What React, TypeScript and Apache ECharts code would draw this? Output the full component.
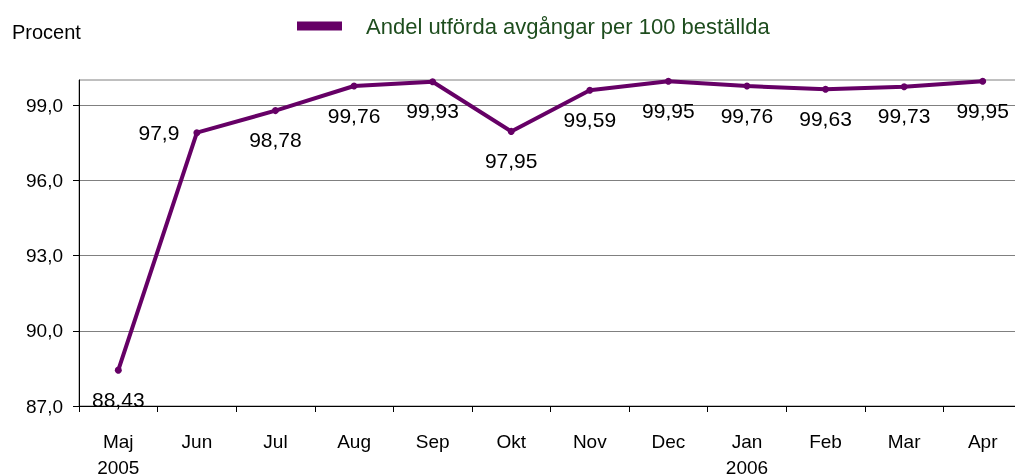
import React, { useEffect, useRef } from "react";
import * as echarts from "echarts";

const months = ["Maj\n2005", "Jun", "Jul", "Aug", "Sep", "Okt", "Nov", "Dec", "Jan\n2006", "Feb", "Mar", "Apr"];
const values = [88.43, 97.9, 98.78, 99.76, 99.93, 97.95, 99.59, 99.95, 99.76, 99.63, 99.73, 99.95];
const yTicks = [87, 90, 93, 96, 99];
const seriesName = "Andel utförda avgångar per 100 beställda";
const yTitle = "Procent";

const fmt = (v: number) => String(v).replace(".", ",");

export default function App() {
  const ref = useRef<HTMLDivElement>(null);
  useEffect(() => {
    const chart = echarts.init(ref.current!, null, { renderer: "svg" });
    const font = "Liberation Sans, Arial, sans-serif";
    chart.setOption({
      animation: false,
      textStyle: { fontFamily: font },
      legend: {
        left: 297,
        top: 15,
        padding: 0,
        icon: "rect",
        itemWidth: 45,
        itemHeight: 9,
        textStyle: { color: "#1e4d1e", fontSize: 22, fontFamily: font, padding: [0, 0, 0, 19] },
        data: [seriesName],
      },
      graphic: [
        {
          type: "text",
          left: 12,
          top: 22,
          style: { text: yTitle, fontSize: 20, fontFamily: font, fill: "#000" },
        },
      ],
      grid: {
        left: 79,
        top: 80,
        height: 326,
        width: 943,
        outerBoundsMode: "none",
        containLabel: false,
        show: true,
        borderColor: "#808080",
        borderWidth: 1,
      },
      xAxis: {
        type: "category",
        data: months,
        boundaryGap: true,
        axisLine: { lineStyle: { color: "#000", width: 1 } },
        axisTick: { show: true, length: 6, inside: false, lineStyle: { color: "#000" } },
        axisLabel: { color: "#000", fontSize: 19, margin: 22, lineHeight: 26, fontFamily: font },
      },
      yAxis: {
        type: "value",
        min: 87,
        max: 100,
        interval: 3,
        axisLine: { show: true, lineStyle: { color: "#000", width: 1 } },
        axisTick: { show: true, length: 6, lineStyle: { color: "#000" }, customValues: yTicks },
        axisLabel: {
          color: "#000",
          fontSize: 19,
          margin: 16,
          fontFamily: font,
          customValues: yTicks,
          formatter: (v: number) => v.toFixed(1).replace(".", ","),
        },
        splitLine: { show: true, lineStyle: { color: "#808080", width: 1 } },
      },
      series: [
        {
          name: seriesName,
          type: "line",
          data: values.map((v, i) =>
            i === 1
              ? { value: v, label: { position: "left", distance: 14 } }
              : { value: v }
          ),
          lineStyle: { color: "#660066", width: 4 },
          itemStyle: { color: "#660066" },
          symbol: "circle",
          symbolSize: 7,
          label: {
            show: true,
            position: "bottom",
            distance: 15,
            color: "#000",
            fontSize: 21,
            fontFamily: font,
            formatter: (p: any) => fmt(p.value),
          },
        },
      ],
    });
    return () => chart.dispose();
  }, []);
  return <div ref={ref} style={{ position: "fixed", left: 0, top: 0, width: 1015, height: 476 }} />;
}
